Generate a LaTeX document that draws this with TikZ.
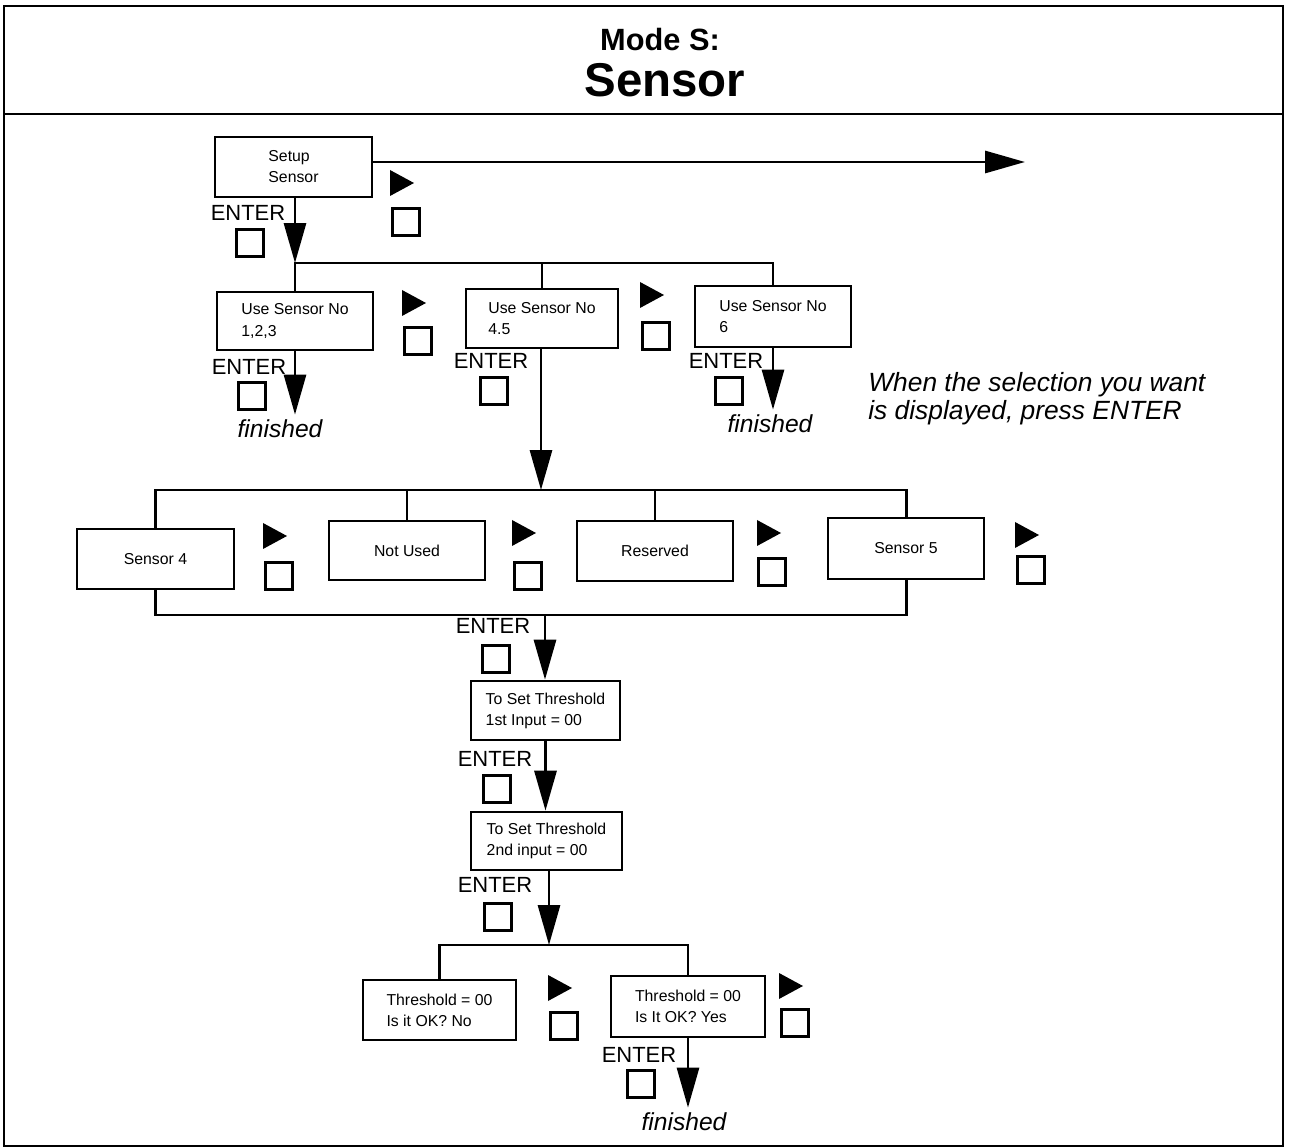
\documentclass[tikz,border=0pt]{standalone}
\usepackage{fontspec}
\setmainfont{Liberation Sans}
\usetikzlibrary{arrows.meta}
\tikzset{
  box/.style={draw, line width=1.5pt, rectangle, inner sep=0pt, align=left, font=\fontsize{9}{12}\selectfont},
  ln/.style={line width=1.7pt},
  arr/.style={ln, -{Triangle[length=0.8cm,width=0.44cm]}},
  keybox/.style={draw, line width=1.3pt, minimum size=0.54cm, inner sep=0pt},
  lbl/.style={inner sep=0pt, font=\fontsize{12.5}{14}\selectfont},
  fin/.style={inner sep=0pt, font=\fontsize{14}{16}\selectfont\itshape},
}
\newcommand\mybox[6]{\node[box, minimum width={(#4-#2)*0.02cm}, minimum height={(#5-#3)*0.02cm}] (#1) at ({(#2+#4)/2},{(#3+#5)/2}) {#6};}
\newcommand\mykey[3]{\node[keybox] (#1) at (#2,#3) {};}
\newcommand\mytri[2]{\fill (#1,#2) -- ++(24,13) -- ++(-24,13) -- cycle;}
\begin{document}
\begin{tikzpicture}[x=0.02cm,y=-0.02cm]
\useasboundingbox (0,0) rectangle (1289,1148);
% frame
\draw[line width=1.4pt] (4,6) rectangle (1283,1146);
\draw[line width=1.4pt] (4,114) -- (1283,114);
\node[inner sep=0pt, font=\bfseries\fontsize{17.5}{20}\selectfont] (t1) at (660,40) {Mode S:};
\node[inner sep=0pt, font=\bfseries\fontsize{27}{30}\selectfont] (t2) at (665,80) {Sensor};

% boxes
\mybox{S0}{215}{137}{372}{197}{Setup\\Sensor}
\mybox{U1}{217}{292}{373}{350}{Use Sensor No\\1,2,3}
\mybox{U2}{466}{289}{618}{348}{Use Sensor No\\4.5}
\mybox{U3}{695}{286}{851}{347}{Use Sensor No\\6}
\mybox{S4}{77}{529}{234}{589}{Sensor 4}
\mybox{NU}{329}{521}{485}{580}{Not Used}
\mybox{RS}{577}{521}{733}{581}{Reserved}
\mybox{S5}{828}{518}{984}{579}{Sensor 5}
\mybox{T1}{471}{681}{620}{740}{To Set Threshold\\1st Input = 00}
\mybox{T2}{471}{812}{622}{870}{To Set Threshold\\2nd input = 00}
\mybox{TN}{363}{980}{516}{1040}{Threshold = 00\\Is it OK? No}
\mybox{TY}{611}{976}{765}{1037}{Threshold = 00\\Is It OK? Yes}

% pointer triangles and keys
\mytri{390}{170} \mykey{k0}{406}{222}
\mytri{402}{290} \mykey{k1}{418}{341}
\mytri{640}{282} \mykey{k2}{656}{336}
\mytri{263}{523} \mykey{k4}{279}{576}
\mytri{512}{520} \mykey{k5}{528}{576}
\mytri{757}{520} \mykey{k6}{772}{572}
\mytri{1015}{522} \mykey{k7}{1031}{570}
\mytri{548}{975} \mykey{k8}{564}{1026}
\mytri{779}{973} \mykey{k9}{795}{1023}

% ENTER labels and keys
\node[lbl] (e0) at (248,213) {ENTER}; \mykey{q0}{250}{243}
\node[lbl] (e1) at (249,367) {ENTER}; \mykey{q1}{252}{396}
\node[lbl] (e2) at (491,361) {ENTER}; \mykey{q2}{494}{391}
\node[lbl] (e3) at (726,361) {ENTER}; \mykey{q3}{729}{391}
\node[lbl] (e4) at (493,626) {ENTER}; \mykey{q4}{496}{659}
\node[lbl] (e5) at (495,759) {ENTER}; \mykey{q5}{497}{789}
\node[lbl] (e6) at (495,885) {ENTER}; \mykey{q6}{498}{917}
\node[lbl] (e7) at (639,1055) {ENTER}; \mykey{q7}{641}{1084}

% finished labels
\node[fin] (f1) at (280,429) {finished};
\node[fin] (f2) at (770,424) {finished};
\node[fin] (f3) at (684,1122) {finished};

% note
\node[inner sep=0pt, anchor=west, align=left, font=\fontsize{15}{16}\selectfont\itshape] (note) at (868,399) {When the selection you want\\is displayed, press ENTER};

% junction coordinates
\coordinate (x0) at (1025,162);
\coordinate (j1) at (295,263);
\coordinate (j2) at (541,490);
\coordinate (j3) at (545,615);
\coordinate (j4) at (549,945);

% connectors
\draw[arr] (S0.east |- x0) -- (x0);
\draw[arr] (S0.south -| j1) -- (j1);
\draw[ln] (U1.north -| j1) -- (j1) -| (U3.north);
\draw[ln] (U2.north) -- (U2.north |- j1);
\draw[arr] (U1.south) -- ([yshift=0.1cm]f1.north -| U1.south);
\draw[arr] (U3.south) -- ([yshift=0.1cm]f2.north -| U3.south);
\draw[arr] (U2.south -| j2) -- (j2);
\draw[ln] (S4.north) -- (S4.north |- j2) -- (S5.north |- j2) -- (S5.north);
\draw[ln] (NU.north) -- (NU.north |- j2);
\draw[ln] (RS.north) -- (RS.north |- j2);
\draw[ln] (S4.south) -- (S4.south |- j3) -- (S5.south |- j3) -- (S5.south);
\draw[arr] (j3) -- (T1.north -| j3);
\draw[arr] (T1.south) -- (T2.north -| T1.south);
\draw[arr] (T2.south -| j4) -- (j4);
\draw[ln] (TN.north) -- (TN.north |- j4) -- (TY.north |- j4) -- (TY.north);
\draw[arr] (TY.south) -- ([yshift=0.1cm]f3.north -| TY.south);
\end{tikzpicture}
\end{document}
